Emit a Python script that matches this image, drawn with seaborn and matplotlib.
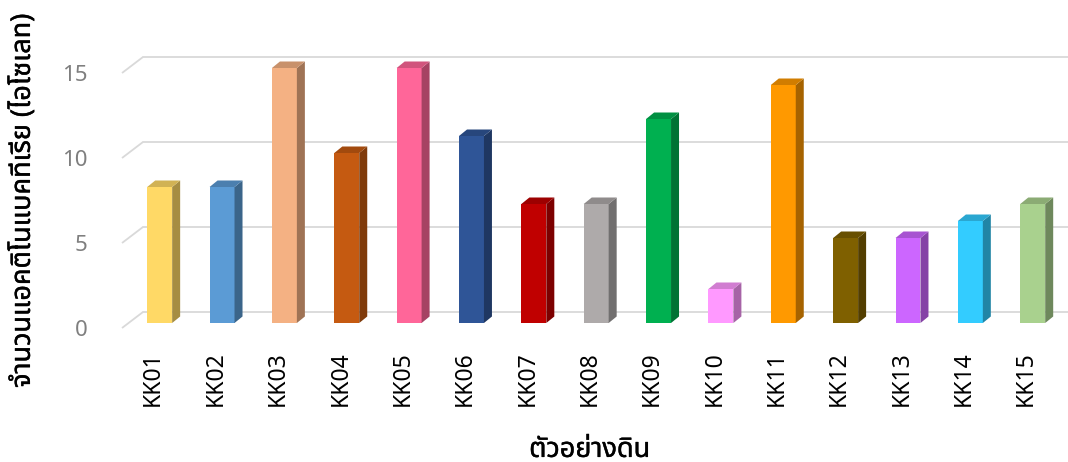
import matplotlib
matplotlib.use("Agg")
import numpy as np
import pandas as pd
import seaborn as sns
import matplotlib.pyplot as plt
import matplotlib.colors as mcolors
import matplotlib.patheffects as pe
from matplotlib import font_manager as fm
from matplotlib.ft2font import FT2Font
from matplotlib.patches import Polygon

# ---------------- data ----------------
samples = ["KK01", "KK02", "KK03", "KK04", "KK05", "KK06", "KK07", "KK08",
           "KK09", "KK10", "KK11", "KK12", "KK13", "KK14", "KK15"]
counts = [8, 8, 15, 10, 15, 11, 7, 7, 12, 2, 14, 5, 5, 6, 7]
y_ticks = [0, 5, 10, 15]
y_title = "จำนวนแอคติโนแบคทีเรีย (ไอโซเลท)"
x_title = "ตัวอย่างดิน"

bar_colors = ["#FFD966", "#5B9BD5", "#F4B183", "#C55A11", "#FF6699",
              "#2F5597", "#C00000", "#AEAAAA", "#00B050", "#FF99FF",
              "#FF9900", "#7F6000", "#CC66FF", "#33CCFF", "#A9D18E"]

df = pd.DataFrame({"sample": samples, "count": counts})

sns.set_theme(style="white")

# ---------------- fonts ----------------
names = {f.name for f in fm.fontManager.ttflist}
if "Liberation Sans Narrow" in names:
    tick_family = ["Liberation Sans Narrow", "DejaVu Sans"]
    xt_size, yt_size = 19, 18
else:
    tick_family = ["Noto Sans", "DejaVu Sans"]
    xt_size, yt_size = 16.5, 16


def find_thai_fonts():
    found = []
    for f in fm.fontManager.ttflist:
        try:
            cmap = FT2Font(f.fname).get_charmap()
        except Exception:
            continue
        if all(c in cmap for c in (0x0E08, 0x0E33, 0x0E35, 0x0E48, 0x0E44)):
            found.append(f)
    return found


thai_fonts = find_thai_fonts()
thai = None
if thai_fonts:
    fam = sorted({f.name for f in thai_fonts})
    for pref in ("Noto Sans Thai", "Noto Sans Thai UI", "Loma", "Garuda",
                 "Tahoma", "Leelawadee", "Sarabun"):
        if pref in fam:
            thai = pref
            break
    if thai is None:
        thai = fam[0]
thai_family = ([thai] if thai else []) + ["DejaVu Sans"]
title_kw = dict(family=thai_family, fontsize=19.5, color="black", va="center",
                fontweight="normal")
title_fx = [pe.withStroke(linewidth=0.3, foreground="black")]

# ---------------- figure ----------------
W, H, DPI = 1068, 462, 100
fig = plt.figure(figsize=(W / DPI, H / DPI), dpi=DPI)
ax_l, ax_r, ax_b, ax_t = 122, 1057.4, 328, 73
ax = fig.add_axes([ax_l / W, 1 - ax_b / H, (ax_r - ax_l) / W, (ax_b - ax_t) / H])

sns.barplot(data=df, x="sample", y="count", hue="sample", palette=bar_colors,
            legend=False, width=0.4, saturation=1, linewidth=0, ax=ax, zorder=3)

ax.set_xlim(-0.5, len(samples) - 0.5)
ax.set_ylim(0, 15)

sx = (ax_r - ax_l) / len(samples)   # px per category
sy = (ax_b - ax_t) / 15.0           # px per unit

# 3D depth (pixels)
wall_dx, wall_dy = 21, 16           # back wall offset
front_dx, front_dy = 6.5, 5         # bar front face offset from front plane
side_dx, side_dy = 8, 6.5           # bar depth

# back wall gridlines + left wall diagonals
grid_c = "#D9D9D9"
for v in y_ticks:
    ax.plot([-0.5, -0.5 + wall_dx / sx], [v, v + wall_dy / sy], color=grid_c,
            lw=1.3, clip_on=False, zorder=0, solid_capstyle="butt")
    ax.plot([-0.5 + wall_dx / sx, len(samples) + 1], [v + wall_dy / sy] * 2,
            color=grid_c, lw=1.3, clip_on=False, zorder=0)

# shift front faces and add side / top faces
fdx, fdy = front_dx / sx, front_dy / sy
ddx, ddy = side_dx / sx, side_dy / sy
for patch, col in zip(ax.patches, bar_colors):
    x0, y0 = patch.get_x(), patch.get_y()
    w, h = patch.get_width(), patch.get_height()
    x0 += fdx
    y0 += fdy
    x1, y1 = x0 + w, y0 + h
    patch.set_x(x0)
    patch.set_y(y0)
    patch.set_clip_on(False)
    rgb = np.array(mcolors.to_rgb(col))
    side = Polygon([(x1, y0), (x1 + ddx, y0 + ddy), (x1 + ddx, y1 + ddy), (x1, y1)],
                   closed=True, facecolor=rgb * 0.65, edgecolor="none",
                   clip_on=False, zorder=3)
    top = Polygon([(x0, y1), (x1, y1), (x1 + ddx, y1 + ddy), (x0 + ddx, y1 + ddy)],
                  closed=True, facecolor=rgb * 0.82, edgecolor="none",
                  clip_on=False, zorder=3)
    ax.add_patch(side)
    ax.add_patch(top)

# axes styling
for s in ax.spines.values():
    s.set_visible(False)
ax.grid(False)
ax.set_yticks(y_ticks)
ax.set_yticklabels([str(t) for t in y_ticks], color="#7F7F7F",
                   fontsize=yt_size, family=tick_family)
ax.tick_params(axis="y", length=0, pad=25)
ax.set_xticks(range(len(samples)))
ax.set_xticklabels(samples, rotation=90, color="black",
                   fontsize=xt_size, family=tick_family)
ax.tick_params(axis="x", length=0, pad=17)

ylab = ax.set_ylabel(y_title, **title_kw)
ylab.set_path_effects(title_fx)
ax.yaxis.set_label_coords(-0.106, 0.5)
xlab = ax.set_xlabel(x_title, **title_kw)
xlab.set_path_effects(title_fx)
ax.xaxis.set_label_coords(0.5, -0.478)

fig.savefig("out.png", dpi=DPI, facecolor="white")
